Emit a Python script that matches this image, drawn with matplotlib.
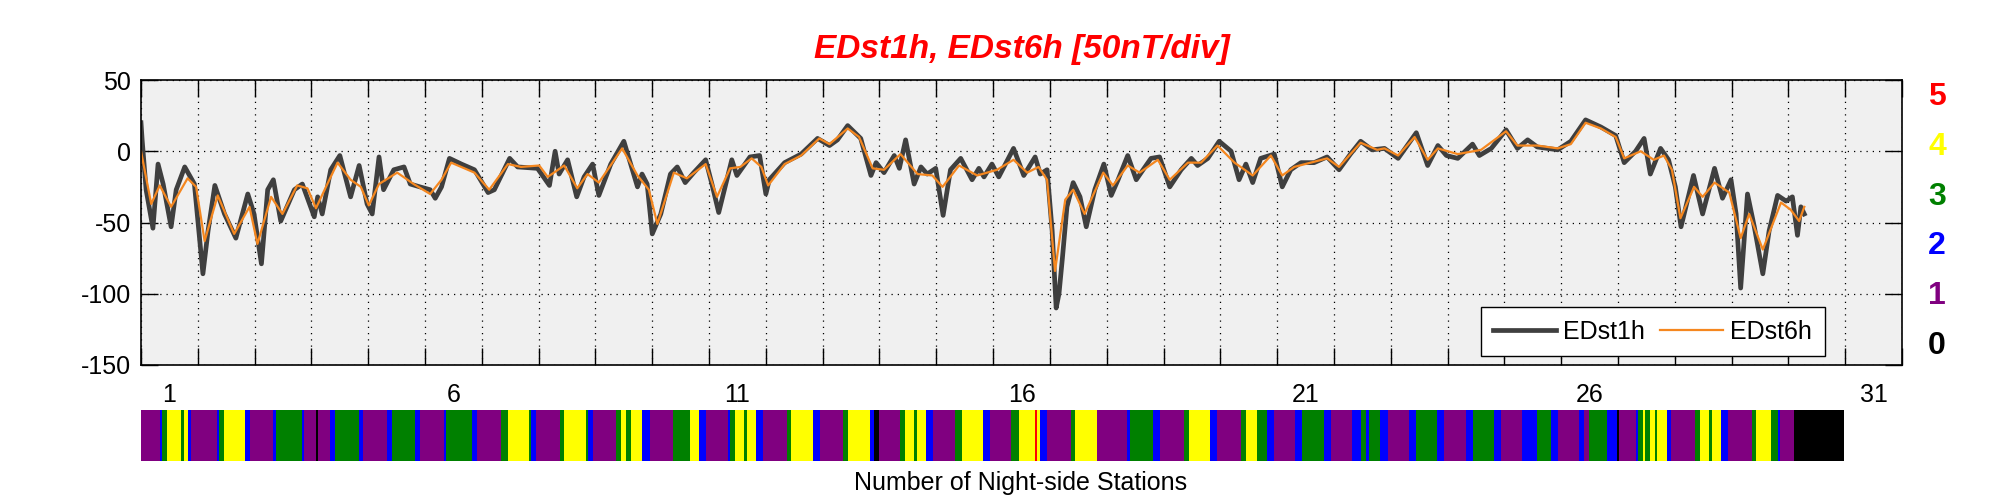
import numpy as np
import matplotlib
matplotlib.use("Agg")
from matplotlib import pyplot as plt

plt.rcParams["font.family"] = ["Liberation Sans", "DejaVu Sans"]

# EDst1h, hourly index (time in days of month, value in nT)
t_1h = [1.00, 1.02, 1.09, 1.21, 1.30, 1.39, 1.53, 1.62, 1.77, 1.94, 2.09, 2.18, 2.30, 2.47, 2.67,
        2.88, 2.99, 3.12, 3.23, 3.33, 3.46, 3.70, 3.84, 4.05, 4.11, 4.19, 4.34, 4.50, 4.69,
        4.84, 4.98, 5.07, 5.19, 5.27, 5.45, 5.63, 5.74, 5.91, 6.09, 6.18, 6.29, 6.43, 6.64,
        6.87, 7.11, 7.22, 7.49, 7.63, 7.98, 8.19, 8.29, 8.36, 8.51, 8.67, 8.80, 8.95, 9.06,
        9.27, 9.50, 9.74, 9.82, 9.91, 10.00, 10.15, 10.32, 10.44, 10.58, 10.73, 10.94, 11.05,
        11.17, 11.40, 11.49, 11.72, 11.89, 12.00, 12.06, 12.33, 12.62, 12.91, 13.12, 13.26,
        13.44, 13.67, 13.85, 13.94, 14.08, 14.26, 14.35, 14.46, 14.61, 14.73, 14.84, 14.99,
        15.12, 15.25, 15.43, 15.63, 15.75, 15.84, 15.98, 16.10, 16.36, 16.54, 16.74, 16.83,
        16.95, 17.04, 17.11, 17.16, 17.22, 17.30, 17.41, 17.53, 17.64, 17.79, 17.95, 18.08,
        18.20, 18.37, 18.52, 18.64, 18.78, 18.93, 19.11, 19.31, 19.49, 19.60, 19.78, 19.98,
        20.19, 20.33, 20.45, 20.57, 20.71, 20.95, 21.09, 21.24, 21.42, 21.65, 21.88, 22.09,
        22.29, 22.47, 22.67, 22.89, 23.13, 23.45, 23.65, 23.83, 23.98, 24.18, 24.44, 24.56,
        24.77, 25.03, 25.23, 25.41, 25.58, 25.94, 26.17, 26.43, 26.70, 26.96, 27.11, 27.31,
        27.46, 27.57, 27.75, 27.89, 28.01, 28.11, 28.33, 28.49, 28.70, 28.84, 28.99, 29.08,
        29.16, 29.28, 29.40, 29.55, 29.66, 29.81, 29.96, 30.07, 30.16, 30.22, 30.28]
edst_1h = [20, 8, -27, -54, -9, -23, -53, -27, -11, -23, -86, -56, -24, -44, -61,
           -30, -44, -79, -27, -20, -49, -27, -23, -46, -32, -44, -13, -3, -32,
           -10, -37, -44, -4, -27, -13, -11, -23, -25, -27, -33, -25, -5, -9,
           -13, -29, -27, -5, -11, -12, -24, 0, -16, -6, -32, -18, -9, -31,
           -9, 7, -25, -16, -23, -58, -44, -16, -11, -22, -15, -6, -23,
           -43, -6, -17, -4, -3, -30, -20, -8, -2, 9, 4, 8,
           18, 9, -17, -8, -15, -3, -12, 8, -23, -11, -16, -12,
           -45, -13, -5, -20, -12, -18, -9, -18, 2, -17, -4, -16,
           -13, -56, -110, -100, -75, -39, -22, -32, -53, -27, -9, -31,
           -20, -3, -20, -13, -5, -4, -25, -13, -5, -10, -5, 7,
           0, -20, -9, -22, -5, -2, -25, -13, -8, -8, -4, -13,
           -2, 7, 1, 2, -5, 13, -10, 4, -3, -5, 5, -3,
           2, 15, 2, 8, 3, 1, 7, 22, 17, 11, -8, 0,
           9, -16, 2, -6, -25, -53, -17, -44, -12, -33, -20, -44,
           -96, -30, -53, -86, -56, -31, -35, -32, -59, -39, -44]

# EDst6h, smoothed index
t_6h = [1.00, 1.18, 1.33, 1.53, 1.82, 1.97, 2.12, 2.35, 2.64, 2.91, 3.05, 3.29, 3.49, 3.75,
        3.93, 4.08, 4.28, 4.46, 4.69, 4.87, 5.01, 5.19, 5.51, 5.80, 6.09, 6.29, 6.46, 6.87,
        7.13, 7.46, 7.69, 8.01, 8.16, 8.45, 8.68, 8.86, 9.06, 9.47, 9.74, 9.94, 10.09, 10.38,
        10.61, 10.94, 11.14, 11.37, 11.55, 11.75, 11.92, 12.04, 12.33, 12.62, 12.94, 13.12,
        13.44, 13.64, 13.88, 14.08, 14.37, 14.67, 14.93, 15.11, 15.40, 15.72, 16.07, 16.36,
        16.60, 16.80, 16.95, 17.09, 17.27, 17.41, 17.61, 17.94, 18.11, 18.37, 18.58, 18.90,
        19.11, 19.43, 19.66, 19.95, 20.25, 20.57, 20.89, 21.09, 21.30, 21.88, 22.09, 22.47,
        22.76, 22.89, 23.13, 23.42, 23.65, 23.83, 24.18, 24.59, 25.03, 25.23, 25.58, 25.94,
        26.17, 26.43, 26.70, 26.96, 27.11, 27.40, 27.63, 27.81, 27.95, 28.10, 28.34, 28.49,
        28.70, 28.96, 29.16, 29.31, 29.55, 29.87, 30.04, 30.19, 30.28]
edst_6h = [0, -37, -24, -39, -19, -25, -63, -31, -58, -39, -65, -32, -44, -24,
           -26, -40, -23, -8, -20, -25, -38, -23, -15, -23, -30, -20, -8, -15,
           -27, -9, -11, -10, -18, -10, -26, -16, -22, 2, -17, -27, -51, -15,
           -19, -9, -32, -12, -11, -5, -11, -24, -9, -3, 9, 5,
           16, 10, -12, -13, -2, -16, -17, -25, -10, -17, -13, -6,
           -15, -11, -20, -84, -34, -27, -44, -15, -24, -10, -15, -6,
           -20, -8, -8, 4, -8, -17, -3, -17, -11, -5, -11, 6,
           1, 2, -3, 10, -6, 2, -2, 1, 14, 4, 4, 2,
           5, 20, 16, 10, -5, 0, -6, -3, -13, -47, -25, -32,
           -22, -29, -61, -44, -69, -36, -41, -49, -39]

# number of night-side stations: run start (hour of month) and count
station_start = [0, 8, 9, 11, 17, 18, 20, 21, 32, 33, 35, 44, 46, 56, 57, 68, 69, 74, 75, 80,
                 82, 92, 94, 104, 106, 116, 118, 128, 129, 140, 142, 152, 155, 164, 165, 167,
                 177, 179, 188, 189, 191, 201, 203, 205, 207, 212, 215, 225, 232, 236, 239,
                 248, 249, 251, 255, 256, 260, 263, 273, 275, 284, 287, 297, 299, 308, 310,
                 312, 321, 323, 327, 328, 332, 335, 344, 347, 356, 359, 368, 371, 378, 379,
                 380, 383, 393, 395, 404, 417, 418, 428, 431, 441, 443, 452, 455, 465, 467,
                 472, 476, 479, 488, 491, 500, 503, 512, 516, 518, 519, 524, 527, 536, 539,
                 548, 551, 560, 563, 572, 575, 584, 590, 596, 599, 608, 610, 612, 620, 624,
                 625, 632, 633, 635, 636, 638, 640, 641, 645, 647, 657, 659, 663, 664, 668,
                 671, 681, 683, 689, 692, 693, 699]
station_count = [1, 2, 3, 4, 3, 4, 2, 1, 2, 3, 4, 2, 1, 2, 3, 2, 1, 0, 1, 2,
                 3, 2, 1, 2, 3, 2, 1, 2, 3, 2, 1, 3, 4, 3, 2, 1,
                 3, 4, 3, 2, 1, 3, 4, 3, 4, 2, 1, 3, 4, 2, 1,
                 2, 3, 4, 3, 4, 2, 1, 3, 4, 2, 1, 3, 4, 2, 0,
                 1, 3, 4, 3, 4, 2, 1, 3, 4, 2, 1, 3, 4, 5, 4,
                 2, 1, 3, 4, 1, 2, 3, 2, 1, 3, 4, 2, 1, 3, 4,
                 3, 2, 1, 2, 3, 2, 1, 2, 3, 2, 3, 2, 1, 2, 3,
                 2, 1, 2, 3, 2, 1, 2, 3, 2, 1, 2, 1, 3, 2, 0,
                 1, 2, 3, 4, 3, 4, 3, 4, 2, 1, 3, 4, 3, 4, 2,
                 1, 3, 4, 3, 2, 1, 0]
month_hours = 720

count_colors = ["#000000", "#800080", "#0000FF", "#008000", "#FFFF00", "#FF0000"]
count_labels = ["0", "1", "2", "3", "4", "5"]
day_labels = ["1", "6", "11", "16", "21", "26", "31"]

fig = plt.figure(figsize=(20.01, 5), dpi=100)
ax = fig.add_axes([141 / 2001, 135 / 500, 1761 / 2001, 285 / 500])
ax.set_facecolor("#F0F0F0")

ax.plot(t_1h, edst_1h, color="#3F3F3F", lw=3.4, label="EDst1h",
        solid_joinstyle="round")
ax.plot(t_6h, edst_6h, color="#F5871F", lw=1.6, label="EDst6h")

ax.set_xlim(1, 32)
ax.set_ylim(-150, 50)
ax.set_xticks(range(1, 33))
ax.set_xticklabels([])
ax.set_xticks([int(d) + 0.5 for d in day_labels], minor=True)
ax.set_xticklabels(day_labels, minor=True, fontsize=18)
ax.set_yticks([-150, -100, -50, 0, 50])
ax.set_yticklabels(["-150", "-100", "-50", "0", "50"], fontsize=18)
ax.tick_params(which="major", direction="in", length=12, width=1,
               top=True, right=True, pad=7)
ax.tick_params(which="minor", length=0, pad=13)
ax.grid(which="major", linestyle=(0, (1, 4)), color="black", lw=0.9)
for s in ax.spines.values():
    s.set_linewidth(1.2)

ax.set_title("EDst1h, EDst6h [50nT/div]", color="red", fontsize=24,
             fontweight="bold", fontstyle="italic", pad=16)

leg = ax.legend(ncol=2, loc="lower right", bbox_to_anchor=(0.956, 0.03),
                fontsize=18, handlelength=2.5, handletextpad=0.3,
                columnspacing=0.6, borderpad=0.5, borderaxespad=0,
                fancybox=False, framealpha=1, edgecolor="black")
leg.get_frame().set_linewidth(1.0)

# colour key on the right side
for k, lab in enumerate(count_labels):
    fig.text(1937 / 2001, 1 - (346 - k * 49.8) / 500, lab, color=count_colors[k],
             fontsize=23, fontweight="bold", ha="center", va="center")

# station count strip
ax2 = fig.add_axes([141 / 2001, 39 / 500, 1703 / 2001, 51 / 500])
widths = np.diff(station_start + [month_hours])
ax2.bar(station_start, np.ones(len(station_start)), width=widths, align="edge",
        color=[count_colors[c] for c in station_count], linewidth=0)
ax2.set_xlim(0, month_hours)
ax2.set_ylim(0, 1)
ax2.axis("off")

fig.text(1021 / 2001, 1 - 483 / 500, "Number of Night-side Stations",
         fontsize=18, ha="center", va="center")

fig.savefig("out.png", dpi=100)
